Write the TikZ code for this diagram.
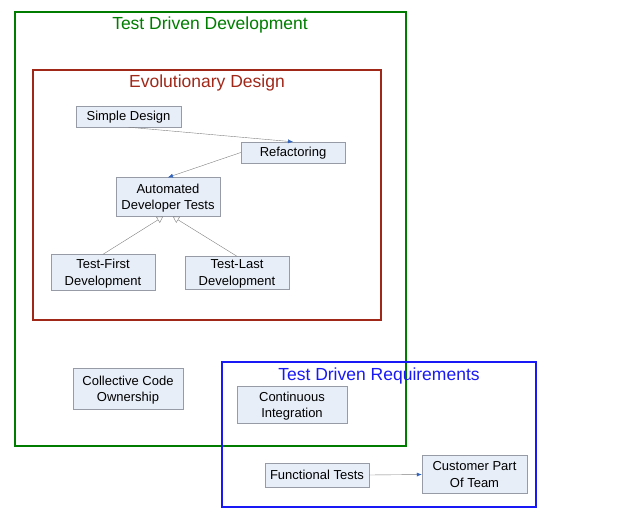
\documentclass[tikz,border=0pt]{standalone}
\usepackage{fontspec}
\setmainfont{Liberation Sans}
\usetikzlibrary{arrows.meta}
\definecolor{boxfill}{RGB}{232,238,248}
\definecolor{boxline}{RGB}{150,155,165}
\definecolor{tddgreen}{RGB}{0,125,0}
\definecolor{edred}{RGB}{160,40,25}
\definecolor{tdrblue}{RGB}{25,25,245}
\definecolor{arrowblue}{RGB}{50,100,190}
\begin{document}
\begin{tikzpicture}[x=1pt,y=-1pt,
  item/.style={draw=boxline,fill=boxfill,align=center,inner sep=0pt,text depth=0.5pt,
    font=\fontsize{13}{16.5}\selectfont},
  flow/.style={draw=gray,thin,-{Latex[length=5pt,width=4pt,color=arrowblue]}},
  isa/.style={draw=gray,thin,-{Triangle[open,length=6pt,width=7pt]}},
  title/.style={font=\fontsize{17.5}{20}\selectfont}]
\useasboundingbox (0,0) rectangle (640,517);
% outer boxes
\draw[tddgreen,line width=1.5pt] (15,12) rectangle (406,446);
\node[title,text=tddgreen] (tddtitle) at (210,25) {Test Driven Development};
\draw[edred,line width=1.5pt] (33,70) rectangle (381,320);
\node[title,text=edred] (edtitle) at (207,83) {Evolutionary Design};
% practices
\node[item,minimum width=105,minimum height=21] (simple) at (128.5,116.5) {Simple Design};
\node[item,minimum width=104,minimum height=21] (refac) at (293,152.5) {Refactoring};
\node[item,minimum width=104,minimum height=39] (auto) at (168,197) {Automated\\Developer Tests};
\node[item,minimum width=104,minimum height=36] (tfirst) at (103,272.5) {Test-First\\Development};
\node[item,minimum width=104,minimum height=33] (tlast) at (237,273) {Test-Last\\Development};
\node[item,minimum width=110,minimum height=41] (cco) at (128,389) {Collective Code\\Ownership};
\draw[tdrblue,line width=1.5pt] (222,362) rectangle (536,507);
\node[title,text=tdrblue] (tdrtitle) at (379,376) {Test Driven Requirements};
\node[item,minimum width=110,minimum height=37] (ci) at (292,405) {Continuous\\Integration};
\node[item,minimum width=104,minimum height=24] (ft) at (317,475) {Functional Tests};
\node[item,minimum width=105,minimum height=38] (cust) at (474.5,474.5) {Customer Part\\Of Team};
% links
\draw[flow] (simple.south) -- (refac.north);
\draw[flow] (refac.west) -- (auto.north);
\draw[isa] (tfirst.north) -- ([xshift=-5]auto.south);
\draw[isa] (tlast.north) -- ([xshift=5]auto.south);
\draw[flow] (ft.east) -- (cust.west);
\end{tikzpicture}
\end{document}
